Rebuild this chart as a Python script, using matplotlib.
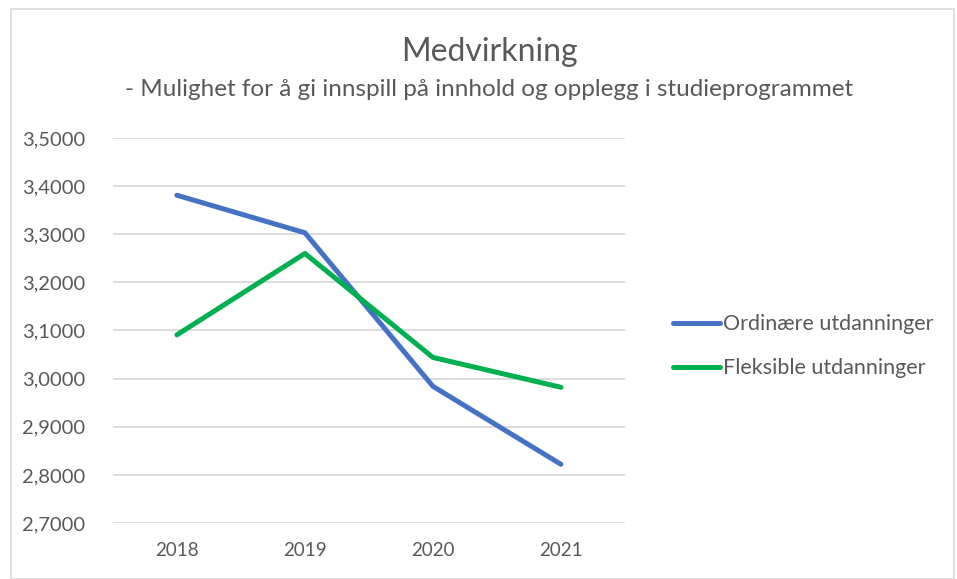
import numpy as np
import matplotlib.pyplot as plt
from matplotlib.patches import Rectangle

plt.rcParams['font.family'] = ['Lato', 'DejaVu Sans']

years = ["2018", "2019", "2020", "2021"]
ordinaere = [3.381, 3.303, 2.984, 2.822]
fleksible = [3.091, 3.260, 3.044, 2.982]
yticks = [2.7, 2.8, 2.9, 3.0, 3.1, 3.2, 3.3, 3.4, 3.5]

grey = '#595959'

fig = plt.figure(figsize=(9.57, 5.79), dpi=100)
ax = fig.add_axes([0.118, 0.0967, 0.535, 0.665])

x = np.arange(len(years))
ax.plot(x, ordinaere, color='#4472C4', lw=3.6, solid_capstyle='round', label='Ordinære utdanninger')
ax.plot(x, fleksible, color='#00B050', lw=3.6, solid_capstyle='round', label='Fleksible utdanninger')

ax.set_xlim(-0.5, 3.5)
ax.set_ylim(2.7, 3.5)
ax.set_xticks(x)
ax.set_xticklabels(years)
ax.set_yticks(yticks)
ax.set_yticklabels([f"{v:.4f}".replace('.', ',') for v in yticks])
ax.tick_params(axis='y', length=0, labelsize=14.5, colors=grey, pad=20)
ax.tick_params(axis='x', length=0, labelsize=13.5, colors=grey, pad=14)
ax.grid(axis='y', color='#D9D9D9', lw=1.3)
ax.set_axisbelow(True)
for s in ax.spines.values():
    s.set_visible(False)

fig.text(0.511, 0.91, "Medvirkning", ha='center', va='center', fontsize=23, color=grey)
fig.text(0.511, 0.845, "- Mulighet for å gi innspill på innhold og opplegg i studieprogrammet",
         ha='center', va='center', fontsize=17.5, color=grey)

leg = fig.legend(loc='center left', bbox_to_anchor=(0.683, 0.402), frameon=False,
                 fontsize=15.5, labelcolor=grey, handlelength=2.2, handletextpad=0.1,
                 labelspacing=1.1)

fig.patches.append(Rectangle((0.012, 0.0), 0.985, 0.985, transform=fig.transFigure,
                             fill=False, edgecolor='#D9D9D9', lw=1.2))

fig.savefig("out.png", dpi=100)
